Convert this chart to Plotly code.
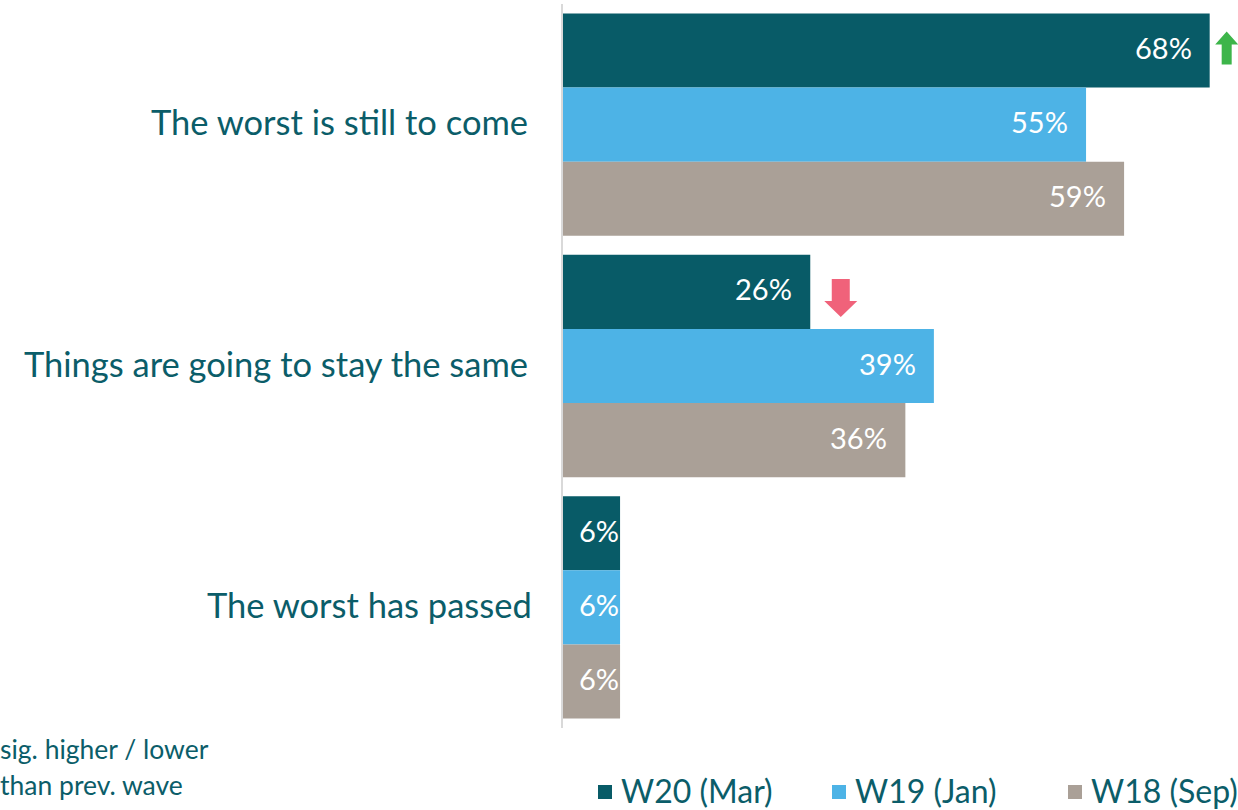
import plotly.graph_objects as go

# Survey answers and waves
categories = ["The worst is still to come", "Things are going to stay the same", "The worst has passed"]
waves = ["W20 (Mar)", "W19 (Jan)", "W18 (Sep)"]
w20_values = [68, 26, 6]
w19_values = [55, 39, 6]
w18_values = [59, 36, 6]
# significance vs previous wave for W20: +1 higher, -1 lower, 0 none
w20_sig = [1, -1, 0]
footnote_lines = ["sig. higher / lower", "than prev. wave"]

colors = ["#085b67", "#4db3e6", "#aaa097"]
text_color = "#0b5d69"
font_family = "Lato, 'Noto Sans', sans-serif"

W, H = 1238, 810
M_L, M_R, M_T, M_B = 563, 0, 4, 82
PX_PER_PCT = 9.51
plot_w = W - M_L - M_R
plot_h = H - M_T - M_B
x_max = plot_w / PX_PER_PCT
bargap = 0.079
bar_w = (1 - bargap) / 3
px_per_cat = plot_h / len(categories)

series = [w20_values, w19_values, w18_values]

fig = go.Figure()
for name, vals, col in zip(waves, series, colors):
    fig.add_trace(go.Bar(
        y=categories, x=vals, name=name, orientation="h",
        marker=dict(color=col, line=dict(width=0)),
        showlegend=False, hoverinfo="skip",
    ))

annotations = []
shapes = []

# value labels inside the bars
label_font = dict(size=29, color="white", family=font_family)
for k, vals in enumerate(series):
    for i, v in enumerate(vals):
        yc = i + (k - 1) * bar_w
        if v >= 10:
            annotations.append(dict(x=v, y=yc, xref="x", yref="y", text=f"{v}%",
                                    xanchor="right", xshift=-16, yshift=3, showarrow=False,
                                    font=label_font))
        else:
            annotations.append(dict(x=0, y=yc, xref="x", yref="y", text=f"{v}%",
                                    xanchor="left", xshift=14, yshift=3, showarrow=False,
                                    font=label_font))

# category labels
label_shift = [-33, -33, -29]
for i, c in enumerate(categories):
    annotations.append(dict(x=0, y=i, xref="x", yref="y", text=c, xanchor="right",
                            xshift=label_shift[i], yshift=3, showarrow=False,
                            font=dict(size=34.5, color=text_color, family=font_family)))


def arrow_path(cx_px, cy_px, up, head_hw, shaft_hw, tip, head_base, tail):
    """Block arrow in pixel offsets, converted to data units."""
    def pt(dx, dy):
        return f"{dx / PX_PER_PCT + cx_px:.4f},{dy / px_per_cat + cy_px:.4f}"
    s = -1 if up else 1  # reversed y axis: smaller values sit higher
    pts = [pt(0, s * tip), pt(head_hw, s * head_base), pt(shaft_hw, s * head_base),
           pt(shaft_hw, s * tail), pt(-shaft_hw, s * tail), pt(-shaft_hw, s * head_base),
           pt(-head_hw, s * head_base)]
    return "M" + "L".join(pts) + "Z"


for i, (v, sig) in enumerate(zip(w20_values, w20_sig)):
    yc = i - bar_w
    if sig > 0:
        cx = v + 17 / PX_PER_PCT
        shapes.append(dict(type="path", xref="x", yref="y",
                           path=arrow_path(cx, yc, True, 11.5, 5, 19, 6, -14),
                           fillcolor="#3db54a", line=dict(width=0)))
    elif sig < 0:
        cx = v + 30.5 / PX_PER_PCT
        shapes.append(dict(type="path", xref="x", yref="y",
                           path=arrow_path(cx, yc, False, 16.5, 9, 25, 9, -13),
                           fillcolor="#f0627a", line=dict(width=0)))


def px_to_paper(px, py):
    return (px - M_L) / plot_w, (H - M_B - py) / plot_h


# legend drawn along the bottom
legend_sq_x = [598, 832, 1068]
for name, col, sx in zip(waves, colors, legend_sq_x):
    x0, y0 = px_to_paper(sx, 785)
    x1, y1 = px_to_paper(sx + 14, 799)
    shapes.append(dict(type="rect", xref="paper", yref="paper", x0=x0, x1=x1, y0=y0, y1=y1,
                       fillcolor=col, line=dict(width=0)))
    tx, ty = px_to_paper(sx + 21, 791)
    annotations.append(dict(x=tx, y=ty, xref="paper", yref="paper", text=name,
                            xanchor="left", yanchor="middle", showarrow=False,
                            font=dict(size=32, color=text_color, family=font_family)))

# footnote
for line, py in zip(footnote_lines, [749, 785]):
    fx, fy = px_to_paper(-2, py)
    annotations.append(dict(x=fx, y=fy, xref="paper", yref="paper", text=line,
                            xanchor="left", yanchor="middle", showarrow=False,
                            font=dict(size=26.5, color=text_color, family=font_family)))

fig.update_layout(
    width=W, height=H,
    margin=dict(l=M_L, r=M_R, t=M_T, b=M_B),
    paper_bgcolor="white", plot_bgcolor="white",
    barmode="group", bargap=bargap, bargroupgap=0,
    xaxis=dict(range=[0, x_max], visible=False, fixedrange=True),
    yaxis=dict(autorange="reversed", showticklabels=False, ticks="",
               showline=True, linecolor="#d9d9d9", linewidth=2, showgrid=False,
               zeroline=False, fixedrange=True),
    annotations=annotations, shapes=shapes,
    showlegend=False,
)

fig.write_html("out.html")
